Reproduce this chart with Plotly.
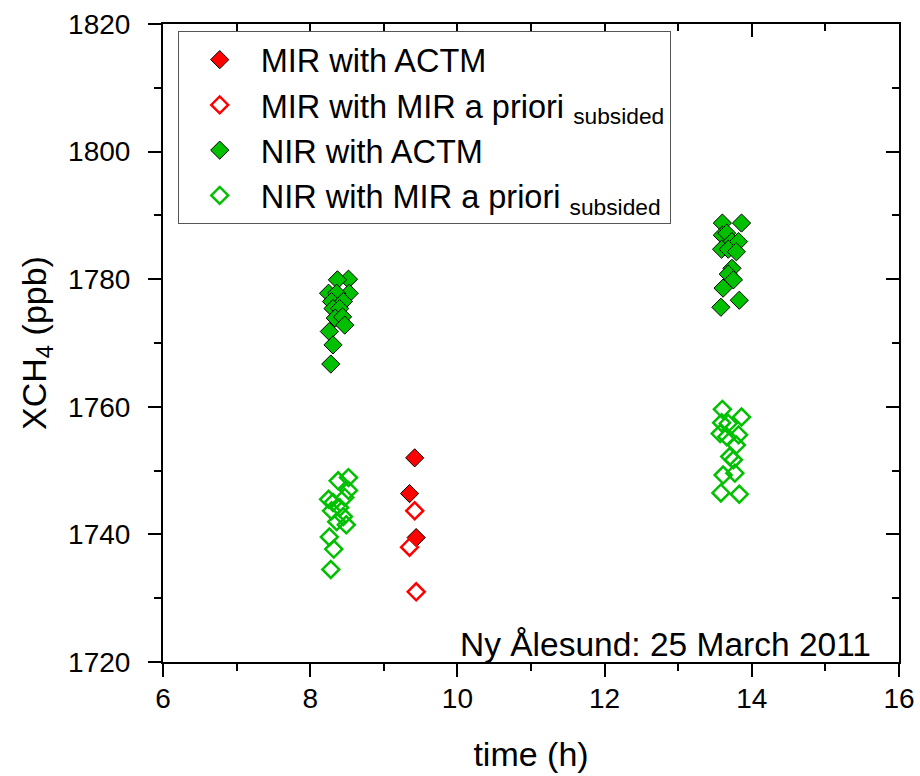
import plotly.graph_objects as go

# Time of each retrieval (h) and XCH4 (ppb)
mir_actm_t = [9.42, 9.35, 9.44]
mir_actm_v = [1752.0, 1746.4, 1739.5]

mir_apriori_t = [9.42, 9.35, 9.44]
mir_apriori_v = [1743.7, 1738.0, 1731.0]

nir_actm_t = [8.52, 8.37, 8.25, 8.53, 8.36, 8.29, 8.45, 8.31, 8.40, 8.34, 8.44, 8.47, 8.26, 8.31, 8.28,
              13.60, 13.86, 13.60, 13.66, 13.73, 13.82, 13.59, 13.68, 13.79, 13.73, 13.68, 13.75,
              13.61, 13.83, 13.58]
nir_actm_v = [1780.0, 1779.9, 1777.8, 1777.8, 1777.8, 1776.5, 1776.5, 1775.4, 1775.4, 1773.9, 1774.1,
              1772.8, 1771.8, 1769.7, 1766.7,
              1788.8, 1788.8, 1786.9, 1787.2, 1785.9, 1785.9, 1784.7, 1784.7, 1784.3, 1781.7, 1780.8,
              1779.9, 1778.6, 1776.7, 1775.6]

nir_apriori_t = [8.52, 8.38, 8.52, 8.25, 8.31, 8.47, 8.29, 8.40, 8.45, 8.36, 8.49, 8.26, 8.32, 8.28,
                 13.60, 13.86, 13.59, 13.68, 13.57, 13.66, 13.82, 13.79, 13.70, 13.75, 13.61, 13.77,
                 13.58, 13.83]
nir_apriori_v = [1748.9, 1748.4, 1746.9, 1745.5, 1745.0, 1745.8, 1743.7, 1744.2, 1742.8, 1742.0, 1741.5,
                 1739.6, 1737.7, 1734.5,
                 1759.6, 1758.4, 1757.5, 1757.4, 1755.8, 1755.3, 1755.6, 1754.0, 1752.2, 1751.7, 1749.3,
                 1749.6, 1746.5, 1746.3]

x_range = [6, 16]
y_range = [1720, 1820]

RED = "#FF0000"
GREEN = "#00C000"
FONT = "Liberation Sans, Arial, sans-serif"

fig = go.Figure()

fig.add_trace(go.Scatter(
    x=mir_actm_t, y=mir_actm_v, mode="markers", name="MIR with ACTM",
    marker=dict(symbol="diamond", size=14, color=RED, line=dict(color="black", width=1)),
))
fig.add_trace(go.Scatter(
    x=mir_apriori_t, y=mir_apriori_v, mode="markers",
    name="MIR with MIR a priori <sub>subsided</sub>",
    marker=dict(symbol="diamond-open", size=13, color=RED, line=dict(color=RED, width=2.5)),
))
fig.add_trace(go.Scatter(
    x=nir_actm_t, y=nir_actm_v, mode="markers", name="NIR with ACTM",
    marker=dict(symbol="diamond", size=14, color=GREEN, line=dict(color="black", width=1)),
))
fig.add_trace(go.Scatter(
    x=nir_apriori_t, y=nir_apriori_v, mode="markers",
    name="NIR with MIR a priori <sub>subsided</sub>",
    marker=dict(symbol="diamond-open", size=13, color=GREEN, line=dict(color=GREEN, width=2.5)),
))

tickfont = dict(family=FONT, size=28, color="black")
titlefont = dict(family=FONT, size=34, color="black")

fig.update_layout(
    width=920, height=776,
    margin=dict(l=163, r=21, t=24, b=114),
    paper_bgcolor="white", plot_bgcolor="white",
    font=dict(family=FONT, color="black"),
    showlegend=True,
    legend=dict(
        x=0.020, y=0.989, xanchor="left", yanchor="top",
        bgcolor="white", bordercolor="#555555", borderwidth=1,
        font=dict(family=FONT, size=32.5, color="black"),
        tracegroupgap=0, itemwidth=72,
    ),
    xaxis=dict(
        range=x_range, dtick=2, tick0=6, automargin=False,
        showgrid=False, zeroline=False,
        showline=True, linecolor="black", linewidth=2,
        ticks="outside", ticklen=13, tickwidth=2, tickcolor="black",
        minor=dict(ticks="outside", ticklen=7, tickwidth=2, dtick=1, tick0=6, tickcolor="black"),
        tickfont=tickfont, ticklabelstandoff=-3,
        title=dict(text="time (h)", font=titlefont, standoff=30),
    ),
    yaxis=dict(
        range=y_range, dtick=20, tick0=1720, automargin=False,
        showgrid=False, zeroline=False,
        showline=True, linecolor="black", linewidth=2,
        ticks="outside", ticklen=13, tickwidth=2, tickcolor="black",
        minor=dict(ticks="outside", ticklen=7, tickwidth=2, dtick=10, tick0=1720, tickcolor="black"),
        tickfont=tickfont, ticklabelstandoff=12,
        title=dict(text="XCH<sub>4</sub> (ppb)", font=titlefont, standoff=11),
    ),
    xaxis2=dict(
        range=x_range, overlaying="x", side="top", dtick=2, tick0=6, automargin=False,
        showgrid=False, zeroline=False, showticklabels=False,
        showline=True, linecolor="black", linewidth=2,
        ticks="inside", ticklen=13, tickwidth=2, tickcolor="black",
        minor=dict(ticks="inside", ticklen=7, tickwidth=2, dtick=1, tick0=6, tickcolor="black"),
    ),
    yaxis2=dict(
        range=y_range, overlaying="y", side="right", dtick=20, tick0=1720, automargin=False,
        showgrid=False, zeroline=False, showticklabels=False,
        showline=True, linecolor="black", linewidth=2,
        ticks="inside", ticklen=13, tickwidth=2, tickcolor="black",
        minor=dict(ticks="inside", ticklen=7, tickwidth=2, dtick=10, tick0=1720, tickcolor="black"),
    ),
    annotations=[dict(
        text="Ny Ålesund: 25 March 2011", xref="paper", yref="paper",
        x=0.964, y=0.027, xanchor="right", yanchor="middle", showarrow=False,
        font=dict(family=FONT, size=33.5, color="black"),
    )],
)

# invisible trace so the mirrored top/right axes are rendered
fig.add_trace(go.Scatter(x=[None], y=[None], xaxis="x2", yaxis="y2", showlegend=False,
                         hoverinfo="skip"))

fig.write_html("out.html")
